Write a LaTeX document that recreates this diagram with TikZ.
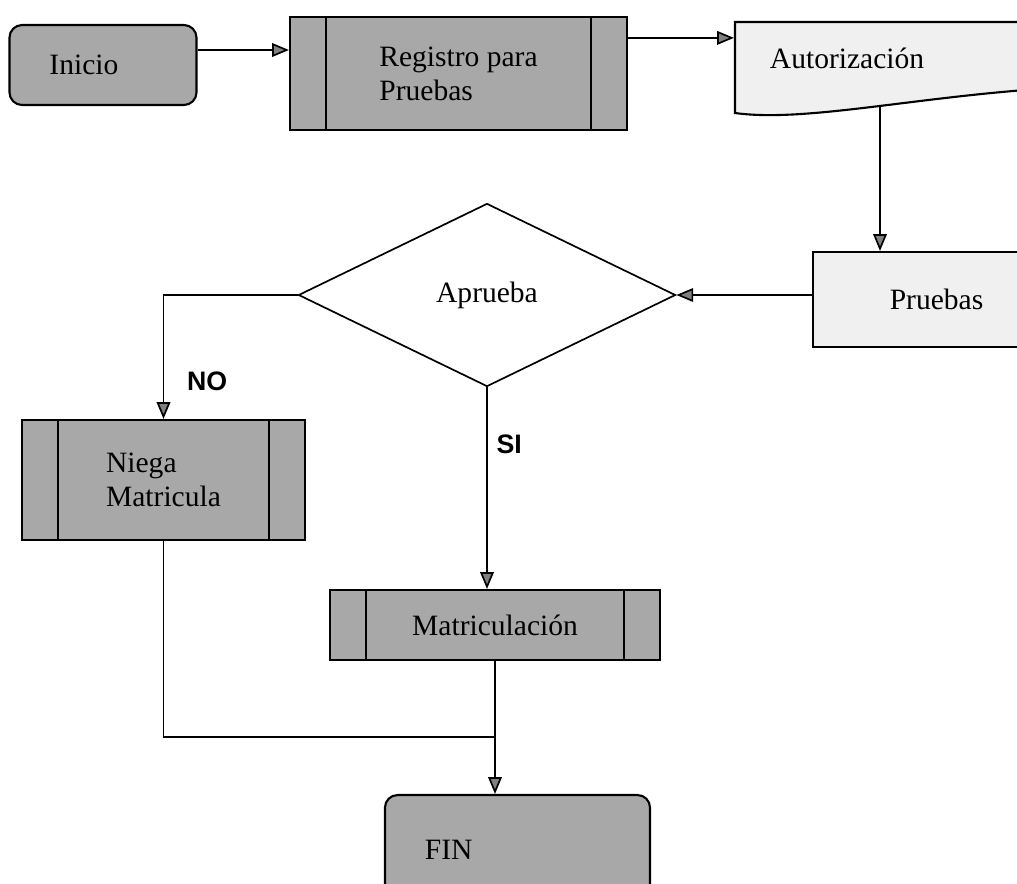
\documentclass[tikz,border=0pt]{standalone}
\usepackage{fontspec}
\setmainfont{Liberation Serif}
\setsansfont{Liberation Sans}
\usetikzlibrary{arrows.meta, positioning, shapes.geometric, backgrounds}
\definecolor{boxgray}{RGB}{168, 168, 168}
\definecolor{papergray}{RGB}{240, 240, 240}

\begin{document}
\begin{tikzpicture}[
    x=0.025cm, y=-0.025cm,
    font=\fontsize{21}{24}\selectfont,
    base/.style={rectangle, draw=black, line width=1.5pt, align=center, inner sep=4pt},
    terminal/.style={base, rounded corners=9pt, fill=boxgray, align=left, inner xsep=1cm},
    predef/.style={base, fill=boxgray, align=left, path picture={
        \draw[line width=1.5pt] ([xshift=0.9cm]path picture bounding box.north west) -- ([xshift=0.9cm]path picture bounding box.south west);
        \draw[line width=1.5pt] ([xshift=-0.9cm]path picture bounding box.north east) -- ([xshift=-0.9cm]path picture bounding box.south east);}},
    document/.style={base, draw=none, align=left},
    decision/.style={diamond, draw=black, line width=1.2pt, align=center, inner sep=0pt, minimum width=9.425cm, minimum height=4.575cm},
    link/.style={draw=black, line width=1.2pt},
    line/.style={link, -{Triangle[length=0.42cm, width=0.34cm, fill=gray]}},
    answer/.style={font=\sffamily\bfseries\fontsize{19}{22}\selectfont, inner sep=2pt}
]
\clip (0,0) rectangle (1017,883);

\node[terminal, text width=2.675cm, minimum height=2cm] (ini) at (103,65) {Inicio};
\node[predef, minimum width=8.425cm, minimum height=2.825cm] (reg) at (458.5,73.5) {Registro para\\Pruebas};
\node[document, text width=5.5cm, inner xsep=0.875cm, minimum height=2.4cm] (aut) at (880,58) {Autorización};
\begin{scope}[on background layer]
  \draw[line width=1.5pt, fill=papergray] (735,22) -- (1025,22) -- (1025,90) .. controls (900,100) and (800,122) .. (735,113) -- cycle;
\end{scope}
\node[base, fill=papergray, minimum width=6.175cm, minimum height=2.375cm] (pru) at (936.5,299.5) {Pruebas};
\node[decision] (dec) at (487,295) {Aprueba};
\node[predef, minimum width=7.075cm, minimum height=3cm] (neg) at (163.5,480) {Niega\\Matricula};
\node[predef, minimum width=8.25cm, minimum height=1.75cm] (mat) at (495,625) {Matriculación};
\node[terminal, text width=4.625cm, minimum height=2.75cm] (fin) at (517.5,850) {FIN};

\path ([yshift=0.375cm]ini.east) coordinate (p1);
\path ([yshift=0.89cm]reg.east) coordinate (p2);
\coordinate (merge) at (mat.south |- 0,737);

\draw[line] (p1) -- (p1 -| reg.west);
\draw[line] (p2) -- (p2 -| aut.west);
\draw[line] (aut.south) -- (aut.south |- pru.north);
\draw[line] (dec.east -| pru.west) -- (dec.east);
\draw[line] (dec.west) -| node[answer, pos=0.85, right=0.5cm] {NO} (neg.north);
\draw[line] (dec.south) -- node[answer, pos=0.28, right=0.15cm] {SI} (dec.south |- mat.north);
\draw[link] (neg.south) |- (merge);
\draw[line] (mat.south) -- (mat.south |- fin.north);

\end{tikzpicture}
\end{document}
